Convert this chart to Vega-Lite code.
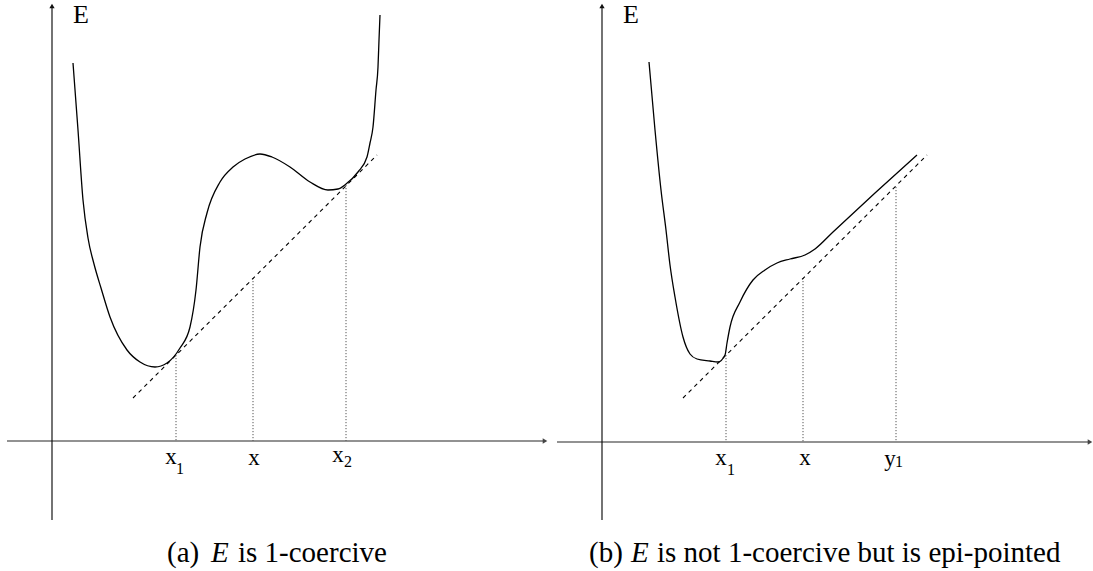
{
  "$schema": "https://vega.github.io/schema/vega-lite/v6.json",
  "width": 1093,
  "height": 571,
  "padding": 0,
  "autosize": "none",
  "background": "white",
  "config": {"view": {"stroke": null}},
  "datasets": {
    "curves": [
      {"s":"a","px":73,"py":63},{"s":"a","px":78,"py":130},{"s":"a","px":83,"py":200},{"s":"a","px":88,"py":238},{"s":"a","px":94,"py":264},{"s":"a","px":101,"py":288},{"s":"a","px":110,"py":317},{"s":"a","px":127,"py":350},{"s":"a","px":140,"py":362},{"s":"a","px":155,"py":367},{"s":"a","px":167,"py":363},{"s":"a","px":180,"py":348},{"s":"a","px":190,"py":327},{"s":"a","px":196,"py":290},{"s":"a","px":200,"py":247},{"s":"a","px":207,"py":213},{"s":"a","px":220,"py":182},{"s":"a","px":233,"py":167},{"s":"a","px":245,"py":159},{"s":"a","px":260,"py":154},{"s":"a","px":272,"py":157},{"s":"a","px":290,"py":167},{"s":"a","px":310,"py":182},{"s":"a","px":328,"py":190},{"s":"a","px":338,"py":189},{"s":"a","px":346,"py":184},{"s":"a","px":358,"py":172},{"s":"a","px":367,"py":157},{"s":"a","px":370,"py":143},{"s":"a","px":373,"py":127},{"s":"a","px":376,"py":90},{"s":"a","px":378,"py":67},{"s":"a","px":379,"py":40},{"s":"a","px":380,"py":15},
      {"s":"b","px":649,"py":62},{"s":"b","px":655,"py":130},{"s":"b","px":661,"py":190},{"s":"b","px":666,"py":230},{"s":"b","px":670,"py":265},{"s":"b","px":675,"py":297},{"s":"b","px":683,"py":337},{"s":"b","px":690,"py":354},{"s":"b","px":697,"py":359},{"s":"b","px":710,"py":361},{"s":"b","px":718,"py":362},{"s":"b","px":725,"py":355},{"s":"b","px":727,"py":343},{"s":"b","px":730,"py":327},{"s":"b","px":740,"py":302},{"s":"b","px":753,"py":280},{"s":"b","px":765,"py":270},{"s":"b","px":777,"py":263},{"s":"b","px":790,"py":259},{"s":"b","px":805,"py":255},{"s":"b","px":815,"py":249},{"s":"b","px":833,"py":232},{"s":"b","px":875,"py":193},{"s":"b","px":917,"py":155}
    ],
    "tangents": [
      {"px":133,"py":398,"px2":377,"py2":155},
      {"px":683,"py":398,"px2":927,"py2":155}
    ],
    "drops": [
      {"px":176,"py":355,"py2":441},{"px":253,"py":278,"py2":441},{"px":346,"py":185,"py2":441},
      {"px":726,"py":355,"py2":442},{"px":803,"py":278,"py2":442},{"px":896,"py":187,"py2":442}
    ],
    "yaxes": [
      {"px":52,"py":520,"py2":6},{"px":602,"py":520,"py2":6}
    ],
    "xaxes": [
      {"px":7,"px2":545,"py":441},{"px":557,"px2":1090,"py":442}
    ],
    "uparrows": [
      {"px":52,"py":6},{"px":602,"py":6}
    ],
    "rightarrows": [
      {"px":545,"py":441},{"px":1090,"py":442}
    ],
    "elabels": [
      {"t":"E","px":81,"py":15},{"t":"E","px":631,"py":15}
    ],
    "ticklabels": [
      {"t":"x","px":171,"py":457},{"t":"x","px":254,"py":458},{"t":"x","px":338,"py":455},
      {"t":"x","px":721,"py":458},{"t":"x","px":805,"py":458},{"t":"y","px":890,"py":459}
    ],
    "subs": [
      {"t":"1","px":180,"py":469},{"t":"2","px":348,"py":462},
      {"t":"1","px":731,"py":470},{"t":"1","px":899,"py":462}
    ],
    "capnormal": [
      {"t":"(a)","px":167,"py":553},{"t":"is 1-coercive","px":238,"py":553},
      {"t":"(b)","px":589,"py":553},{"t":"is not 1-coercive but is epi-pointed","px":657,"py":553}
    ],
    "capitalic": [
      {"t":"E","px":211,"py":553},{"t":"E","px":631,"py":553}
    ]
  },
  "layer": [
    {
      "data": {"name": "xaxes"},
      "mark": {"type": "rule", "color": "#6e6e6e", "strokeWidth": 1.6},
      "encoding": {
        "x": {"field": "px", "type": "quantitative", "scale": {"domain": [0, 1093], "nice": false, "zero": false}, "axis": null},
        "x2": {"field": "px2"},
        "y": {"field": "py", "type": "quantitative", "scale": {"domain": [0, 571], "nice": false, "zero": false, "reverse": true}, "axis": null}
      }
    },
    {
      "data": {"name": "yaxes"},
      "mark": {"type": "rule", "color": "#000000", "strokeWidth": 1.1},
      "encoding": {
        "x": {"field": "px", "type": "quantitative"},
        "y": {"field": "py", "type": "quantitative"},
        "y2": {"field": "py2"}
      }
    },
    {
      "data": {"name": "uparrows"},
      "mark": {"type": "point", "shape": "triangle-up", "filled": true, "color": "#111111", "size": 28, "opacity": 1},
      "encoding": {
        "x": {"field": "px", "type": "quantitative"},
        "y": {"field": "py", "type": "quantitative"}
      }
    },
    {
      "data": {"name": "rightarrows"},
      "mark": {"type": "point", "shape": "triangle-right", "filled": true, "color": "#444444", "size": 28, "opacity": 1},
      "encoding": {
        "x": {"field": "px", "type": "quantitative"},
        "y": {"field": "py", "type": "quantitative"}
      }
    },
    {
      "data": {"name": "drops"},
      "mark": {"type": "rule", "color": "#555555", "strokeWidth": 1, "strokeDash": [1.2, 1.8]},
      "encoding": {
        "x": {"field": "px", "type": "quantitative"},
        "y": {"field": "py", "type": "quantitative"},
        "y2": {"field": "py2"}
      }
    },
    {
      "data": {"name": "tangents"},
      "mark": {"type": "rule", "color": "#000000", "strokeWidth": 1.1, "strokeDash": [4, 4]},
      "encoding": {
        "x": {"field": "px", "type": "quantitative"},
        "y": {"field": "py", "type": "quantitative"},
        "x2": {"field": "px2"},
        "y2": {"field": "py2"}
      }
    },
    {
      "data": {"name": "curves"},
      "mark": {"type": "line", "color": "#000000", "strokeWidth": 1.3, "interpolate": "monotone"},
      "encoding": {
        "x": {"field": "px", "type": "quantitative"},
        "y": {"field": "py", "type": "quantitative"},
        "detail": {"field": "s", "type": "nominal"}
      }
    },
    {
      "data": {"name": "elabels"},
      "mark": {"type": "text", "font": "Liberation Serif", "fontSize": 26, "color": "#000000", "baseline": "middle", "align": "center"},
      "encoding": {
        "x": {"field": "px", "type": "quantitative"},
        "y": {"field": "py", "type": "quantitative"},
        "text": {"field": "t"}
      }
    },
    {
      "data": {"name": "ticklabels"},
      "mark": {"type": "text", "font": "Liberation Serif", "fontSize": 23, "color": "#000000", "baseline": "middle", "align": "center"},
      "encoding": {
        "x": {"field": "px", "type": "quantitative"},
        "y": {"field": "py", "type": "quantitative"},
        "text": {"field": "t"}
      }
    },
    {
      "data": {"name": "subs"},
      "mark": {"type": "text", "font": "Liberation Serif", "fontSize": 16, "color": "#000000", "baseline": "middle", "align": "center"},
      "encoding": {
        "x": {"field": "px", "type": "quantitative"},
        "y": {"field": "py", "type": "quantitative"},
        "text": {"field": "t"}
      }
    },
    {
      "data": {"name": "capnormal"},
      "mark": {"type": "text", "font": "Liberation Serif", "fontSize": 29, "color": "#000000", "baseline": "middle", "align": "left"},
      "encoding": {
        "x": {"field": "px", "type": "quantitative"},
        "y": {"field": "py", "type": "quantitative"},
        "text": {"field": "t"}
      }
    },
    {
      "data": {"name": "capitalic"},
      "mark": {"type": "text", "font": "Liberation Serif", "fontSize": 29, "fontStyle": "italic", "color": "#000000", "baseline": "middle", "align": "left"},
      "encoding": {
        "x": {"field": "px", "type": "quantitative"},
        "y": {"field": "py", "type": "quantitative"},
        "text": {"field": "t"}
      }
    }
  ]
}
